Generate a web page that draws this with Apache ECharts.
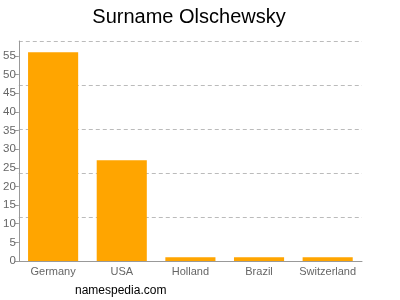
<!DOCTYPE html>
<html>
<head>
<meta charset="utf-8">
<script src="https://cdn.jsdelivr.net/npm/echarts@6/dist/echarts.min.js"></script>
<style>html,body{margin:0;padding:0;background:#fff}#c{width:400px;height:300px}</style>
</head>
<body>
<div id="c"></div>
<script>
var categories = ['Germany', 'USA', 'Holland', 'Brazil', 'Switzerland'];
var counts = [56, 27, 1, 1, 1];
var yTickValues = [0, 5, 10, 15, 20, 25, 30, 35, 40, 45, 50, 55];
var axisMax = 59;

var chart = echarts.init(document.getElementById('c'), null, {renderer: 'canvas'});
chart.setOption({
  animation: false,
  backgroundColor: '#fff',
  title: {
    text: 'Surname Olschewsky',
    left: 184, top: 2, textAlign: 'center',
    textStyle: {fontFamily: 'Liberation Sans, Arial, sans-serif', fontSize: 20, fontWeight: 'normal', color: '#000'}
  },
  graphic: [{
    type: 'text', left: 75, top: 285,
    style: {text: 'namespedia.com', fontFamily: 'Liberation Sans, Arial, sans-serif', fontSize: 12, fill: '#000'}
  }],
  grid: {left: 18, right: 38, top: 41, bottom: 39, containLabel: false},
  xAxis: {
    type: 'category', data: categories,
    axisLine: {lineStyle: {color: '#999'}},
    axisTick: {alignWithLabel: true, length: 4, lineStyle: {color: '#999'}},
    axisLabel: {interval: 0, color: '#666', fontSize: 11, fontFamily: 'Liberation Sans, Arial, sans-serif', margin: 5}
  },
  yAxis: [{
    type: 'value', min: 0, max: axisMax, interval: 5,
    axisLine: {show: true, lineStyle: {color: '#999'}},
    axisTick: {show: true, length: 4, lineStyle: {color: '#999'}, customValues: yTickValues},
    axisLabel: {color: '#666', fontSize: 11.5, fontFamily: 'Liberation Sans, Arial, sans-serif', margin: 3, customValues: yTickValues},
    splitLine: {show: false}
  }, {
    type: 'value', min: 0, max: axisMax, interval: axisMax / 5, position: 'left',
    axisLine: {show: false}, axisTick: {show: false}, axisLabel: {show: false},
    splitLine: {show: true, lineStyle: {color: '#bbb', type: [4, 3], width: 1}}
  }],
  series: [{
    type: 'bar', data: counts, yAxisIndex: 0, barWidth: '73%',
    itemStyle: {color: '#FFA500'}
  }]
});
</script>
</body>
</html>
